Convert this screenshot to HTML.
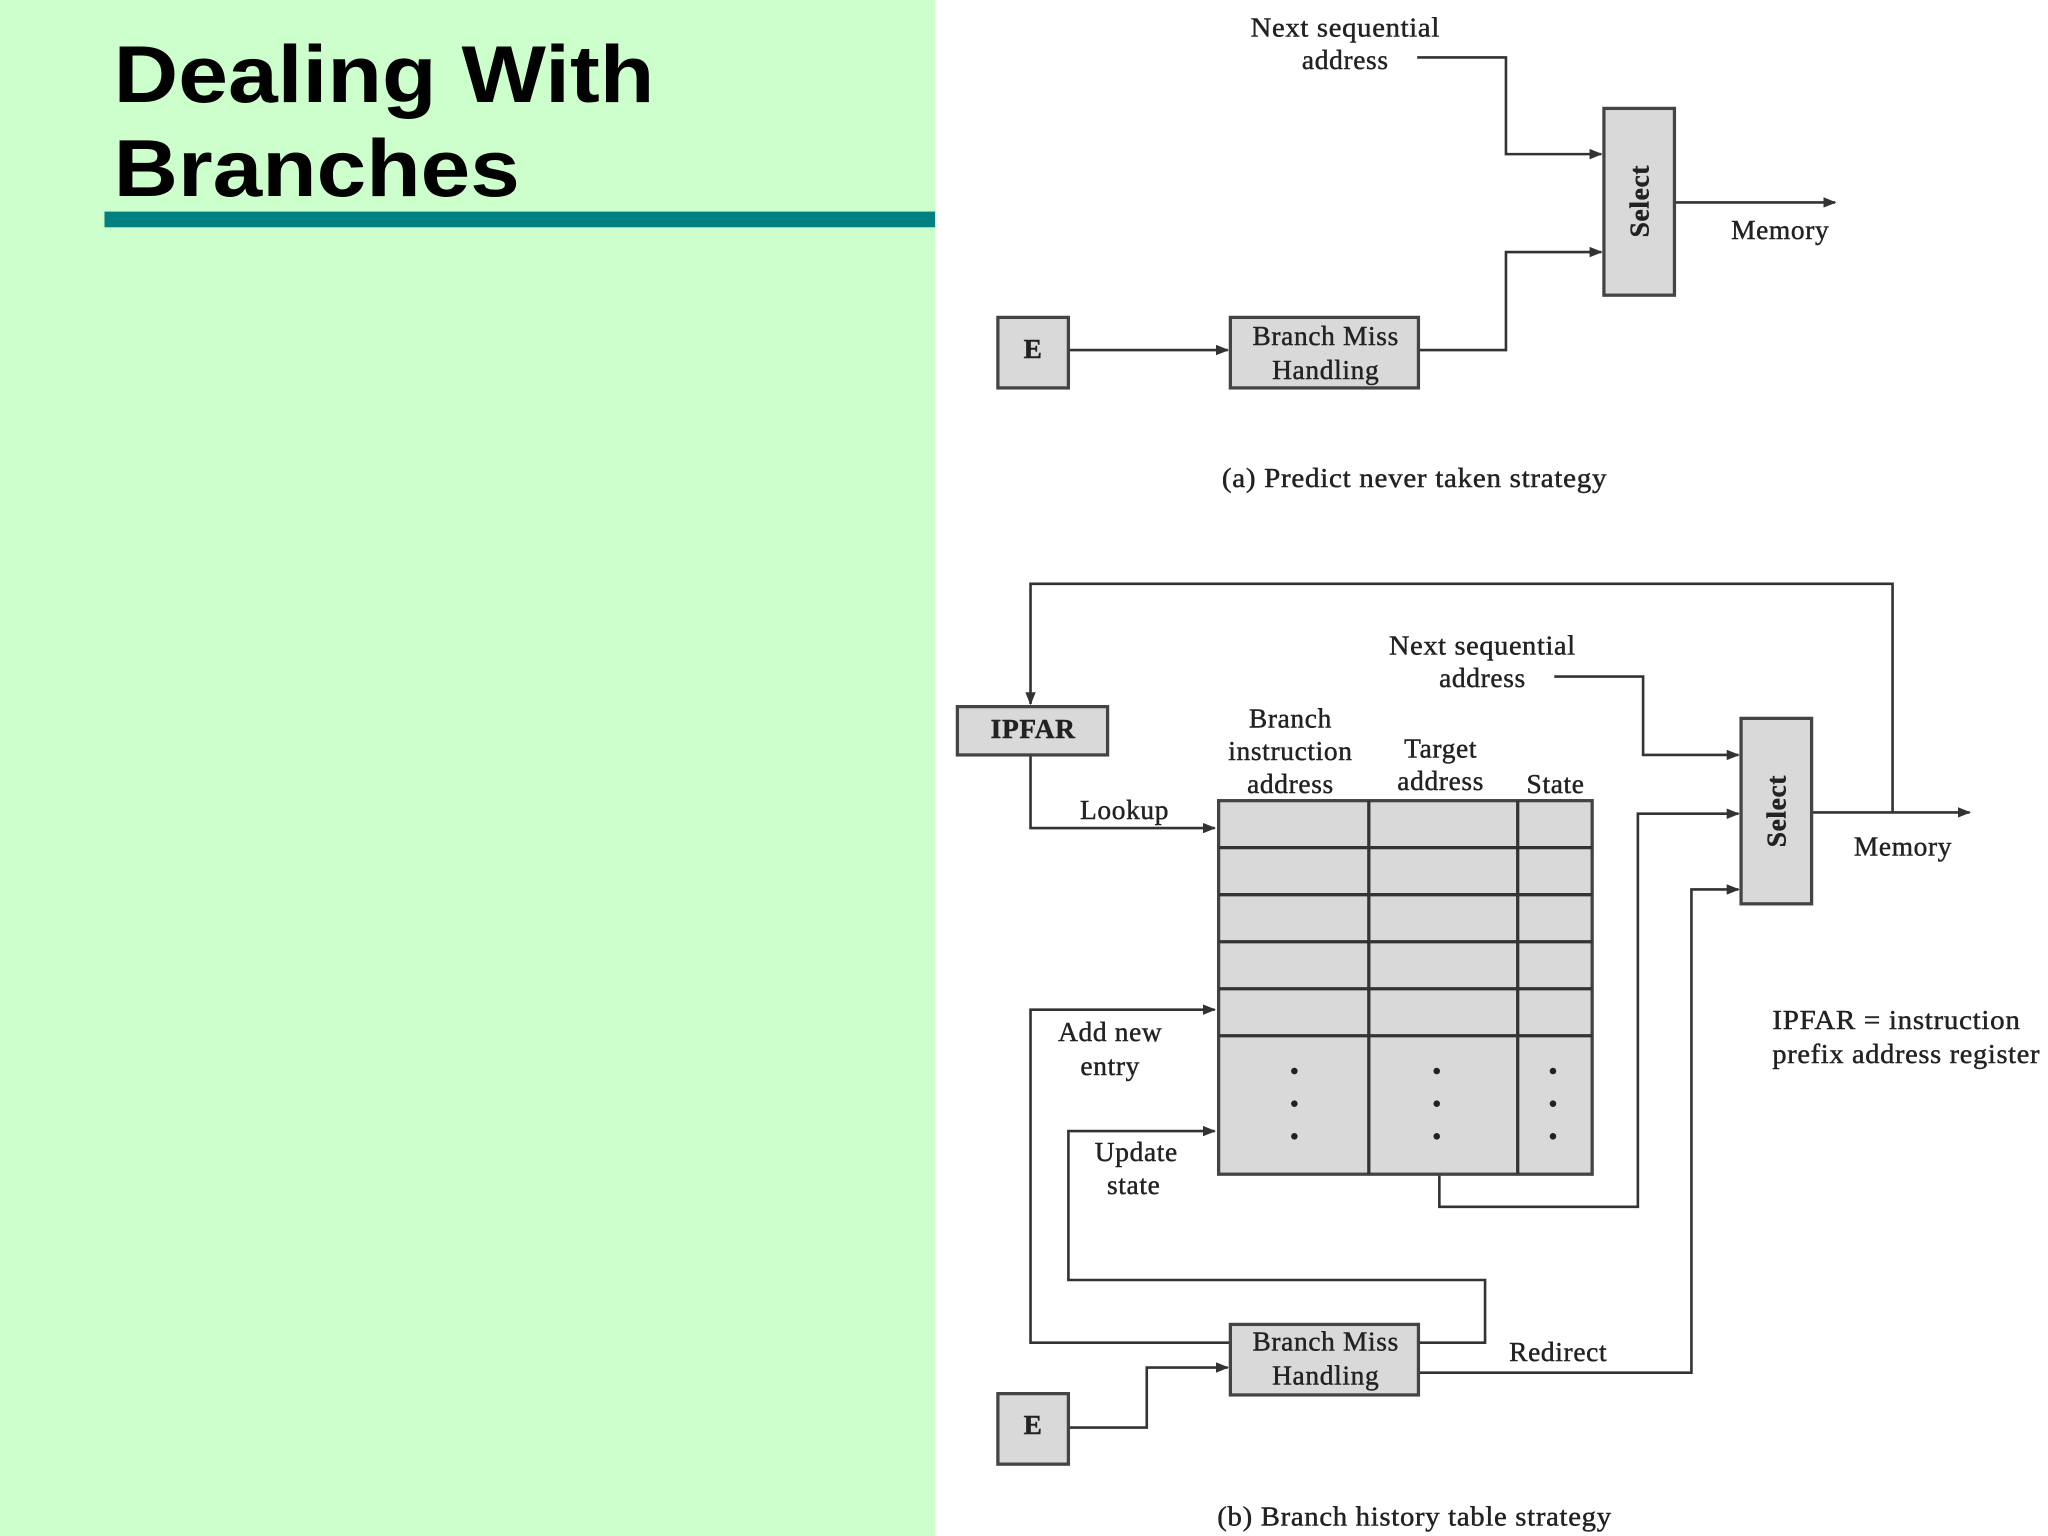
<!DOCTYPE html>
<html><head><meta charset="utf-8"><style>
html,body{margin:0;padding:0;background:#fff;}
svg{display:block}
</style></head><body>
<svg width="2048" height="1536" viewBox="0 0 1568 1176" xmlns="http://www.w3.org/2000/svg">
<defs>
<marker id="a" markerWidth="10" markerHeight="8" refX="9" refY="4" orient="auto" markerUnits="userSpaceOnUse">
<path d="M0,0 L10,4 L0,8 z" fill="#333"/></marker>
</defs>
<rect x="0" y="0" width="716" height="1176" fill="#ccffcc"/>
<rect x="80" y="162" width="636" height="12" fill="#008080"/>
<g font-family="Liberation Sans, sans-serif" font-weight="bold" font-size="62" fill="#000">
<text x="87" y="78" textLength="414" lengthAdjust="spacingAndGlyphs">Dealing With</text>
<text x="87" y="150" textLength="311" lengthAdjust="spacingAndGlyphs">Branches</text>
</g>
<g fill="none" stroke="#333" stroke-width="2">
<path d="M1085,44 H1153 V118 H1226" marker-end="url(#a)"/>
<path d="M1282,155 H1405" marker-end="url(#a)"/>
<path d="M818,268 H940" marker-end="url(#a)"/>
<path d="M1086,268 H1153 V193 H1226" marker-end="url(#a)"/>
<path d="M1449,622 V447 H789 V539" marker-end="url(#a)"/>
<path d="M789,578 V634 H930" marker-end="url(#a)"/>
<path d="M1190,518 H1258 V578 H1331" marker-end="url(#a)"/>
<path d="M1387,622 H1508" marker-end="url(#a)"/>
<path d="M1102,899 V924 H1254 V623 H1331" marker-end="url(#a)"/>
<path d="M1086,1051 H1295 V681 H1331" marker-end="url(#a)"/>
<path d="M942,1028 H789 V773 H930" marker-end="url(#a)"/>
<path d="M1086,1028 H1137 V980 H818 V866 H930" marker-end="url(#a)"/>
<path d="M818,1093 H878 V1047 H940" marker-end="url(#a)"/>
</g>
<g fill="#d9d9d9" stroke="#444" stroke-width="2.5">
<rect x="1228" y="83" width="54" height="143"/>
<rect x="764" y="243" width="54" height="54"/>
<rect x="942" y="243" width="144" height="54"/>
<rect x="733" y="541" width="115" height="37"/>
<rect x="1333" y="550" width="54" height="142"/>
<rect x="942" y="1014" width="144" height="54"/>
<rect x="764" y="1067" width="54" height="54"/>
<rect x="933" y="613" width="286" height="286"/>
</g>
<g stroke="#333" stroke-width="2.5">
<line x1="1048" y1="613" x2="1048" y2="899"/>
<line x1="1162" y1="613" x2="1162" y2="899"/>
<line x1="933" y1="649" x2="1219" y2="649"/>
<line x1="933" y1="685" x2="1219" y2="685"/>
<line x1="933" y1="721" x2="1219" y2="721"/>
<line x1="933" y1="757" x2="1219" y2="757"/>
<line x1="933" y1="793" x2="1219" y2="793"/>
</g>
<g fill="#222">
<circle cx="991" cy="820" r="2.5"/><circle cx="991" cy="845" r="2.5"/><circle cx="991" cy="870" r="2.5"/>
<circle cx="1100" cy="820" r="2.5"/><circle cx="1100" cy="845" r="2.5"/><circle cx="1100" cy="870" r="2.5"/>
<circle cx="1189" cy="820" r="2.5"/><circle cx="1189" cy="845" r="2.5"/><circle cx="1189" cy="870" r="2.5"/>
</g>
<g font-family="Liberation Serif, serif" font-size="21" letter-spacing="0.5" fill="#222" stroke="#222" stroke-width="0.35" text-anchor="middle">
<text x="1030" y="28" textLength="145" lengthAdjust="spacingAndGlyphs">Next sequential</text>
<text x="1030" y="53">address</text>
<text x="1363" y="183">Memory</text>
<text x="791" y="274" font-weight="bold">E</text>
<text x="1015" y="264">Branch Miss</text>
<text x="1015" y="290">Handling</text>
<text x="1083" y="373" textLength="295" lengthAdjust="spacingAndGlyphs">(a) Predict never taken strategy</text>
<text transform="translate(1262,154) rotate(-90)" font-weight="bold">Select</text>

<text x="791" y="565" font-weight="bold">IPFAR</text>
<text x="861" y="627">Lookup</text>
<text x="988" y="557">Branch</text>
<text x="988" y="582">instruction</text>
<text x="988" y="607">address</text>
<text x="1103" y="580">Target</text>
<text x="1103" y="605">address</text>
<text x="1191" y="607">State</text>
<text x="1135" y="501" textLength="143" lengthAdjust="spacingAndGlyphs">Next sequential</text>
<text x="1135" y="526">address</text>
<text transform="translate(1367,621) rotate(-90)" font-weight="bold">Select</text>
<text x="1457" y="655">Memory</text>
<text x="850" y="797">Add new</text>
<text x="850" y="823">entry</text>
<text x="870" y="889">Update</text>
<text x="868" y="914">state</text>
<text x="1015" y="1034">Branch Miss</text>
<text x="1015" y="1060">Handling</text>
<text x="1193" y="1042">Redirect</text>
<text x="791" y="1098" font-weight="bold">E</text>
<text x="1083" y="1168" textLength="302" lengthAdjust="spacingAndGlyphs">(b) Branch history table strategy</text>
<text x="1357" y="788" text-anchor="start" textLength="190" lengthAdjust="spacingAndGlyphs">IPFAR = instruction</text>
<text x="1357" y="814" text-anchor="start" textLength="205" lengthAdjust="spacingAndGlyphs">prefix address register</text>
</g>
</svg>
</body></html>
